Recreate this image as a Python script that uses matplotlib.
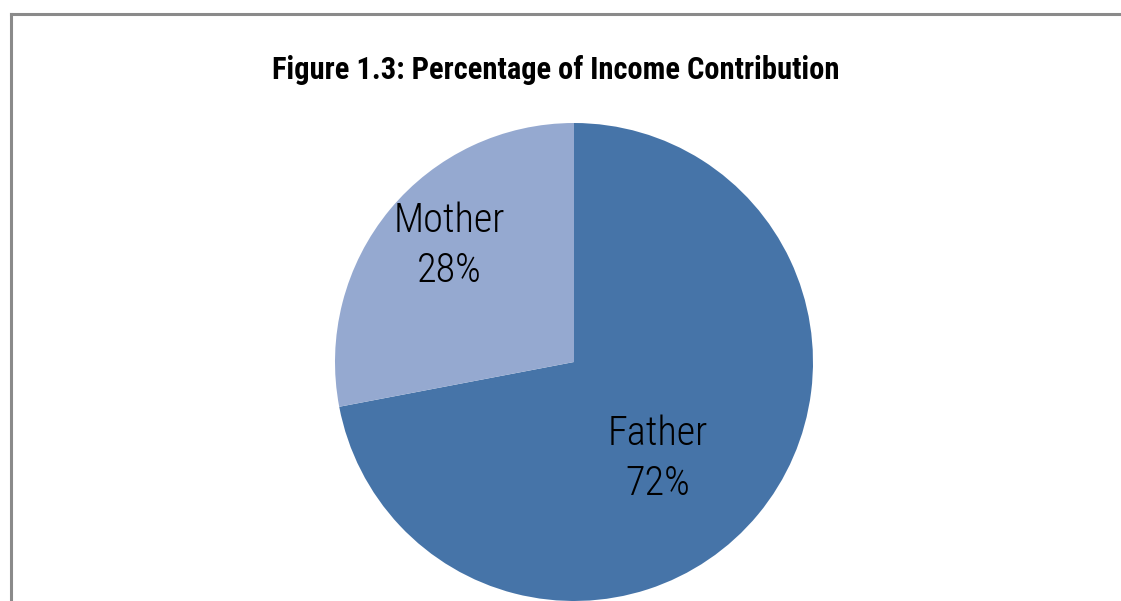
import matplotlib
matplotlib.use("Agg")
import matplotlib.pyplot as plt
from matplotlib.lines import Line2D

# parts du revenu du ménage
categories = ["Father", "Mother"]
parts = [72, 28]
couleurs = ["#4674A8", "#95A9D0"]

# position des étiquettes (x, ligne de base du nom) dans le repère du camembert
pos_labels = [(0.349, -0.347), (-0.523, 0.544)]
ecart_ligne = 0.209  # entre le nom et le pourcentage

police = ["Roboto Condensed", "DejaVu Sans"]

fig = plt.figure(figsize=(11.21, 6.01), dpi=100)

# cadre gris (haut et gauche)
fig.add_artist(Line2D([10.5 / 1121, 10.5 / 1121], [0, 1 - 13.5 / 601],
                      transform=fig.transFigure, color="#8a8a8a", lw=2.2))
fig.add_artist(Line2D([10.5 / 1121, 1], [1 - 13.5 / 601, 1 - 13.5 / 601],
                      transform=fig.transFigure, color="#8a8a8a", lw=2.2))

fig.text(556 / 1121, 1 - 79 / 601, "Figure 1.3: Percentage of Income Contribution",
         ha="center", va="baseline", fontsize=22, fontweight="heavy",
         family=police, fontstretch="condensed", color="black")

cx, cy, r = 574, 362, 239
ax = fig.add_axes([(cx - r) / 1121, (601 - cy - r) / 601, 2 * r / 1121, 2 * r / 601])
ax.pie(parts, colors=couleurs, startangle=90, counterclock=False,
       wedgeprops=dict(linewidth=0))
ax.set_xlim(-1, 1)
ax.set_ylim(-1, 1)
ax.axis("off")

for cat, val, (x, y) in zip(categories, parts, pos_labels):
    ax.text(x, y, cat, ha="center", va="baseline", fontsize=29,
            fontweight="light", family=police, fontstretch="condensed",
            color="black")
    ax.text(x, y - ecart_ligne, f"{val}%", ha="center", va="baseline",
            fontsize=29, fontweight="light", family=police,
            fontstretch="condensed", color="black")

fig.savefig("out.png", dpi=100)
